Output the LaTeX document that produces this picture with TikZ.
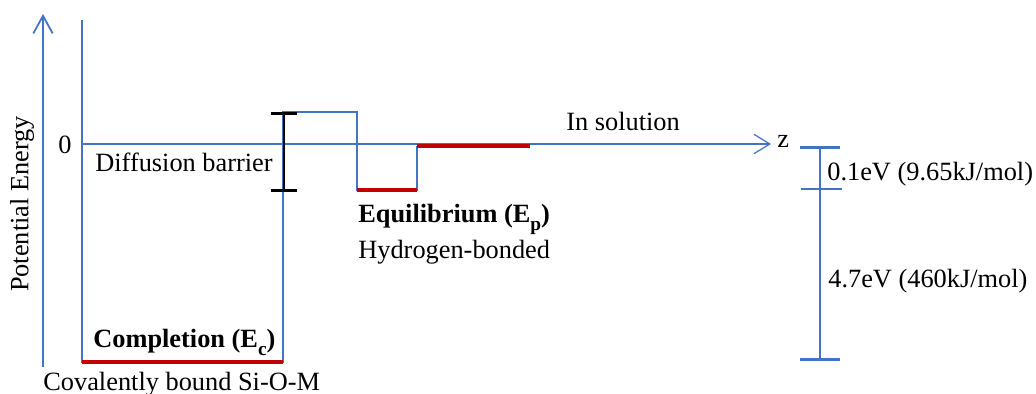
\documentclass[tikz,border=0pt]{standalone}
\usepackage{fontspec}
\setmainfont{Liberation Serif}
\usetikzlibrary{arrows.meta}
\definecolor{axisblue}{RGB}{68,114,196}
\definecolor{levelred}{RGB}{192,0,0}
\newcommand{\lowsub}[1]{\raisebox{-4.5pt}{\fontsize{11}{13}\selectfont #1}}
\tikzset{
  txt/.style={inner sep=0pt, anchor=base west},
  axis/.style={draw=axisblue, line width=1.7pt, -{Straight Barb[length=10pt,width=11pt,line width=1pt]}},
  zaxis/.style={draw=axisblue, line width=0.7pt, -{Straight Barb[length=9pt,width=11pt,line width=0.7pt]}},
  well/.style={draw=axisblue, line width=0.7pt},
  level/.style={draw=levelred, line width=2.8pt},
  barrier/.style={draw=black, line width=1.7pt, {Bar[width=15pt]}-{Bar[width=15pt]}},
  scalebar/.style={draw=axisblue, line width=1.7pt, {Bar[width=23pt]}-{Bar[width=23pt]}},
  tick/.style={draw=axisblue, line width=1.7pt}
}

\begin{document}
\begin{tikzpicture}[x=0.02cm,y=-0.02cm,font=\fontsize{15}{18}\selectfont]
\useasboundingbox (0,0) rectangle (1036,394);

% axes
\coordinate (E0) at (43,367);
\coordinate (E1) at (43,14);
\coordinate (Z0) at (82,144);
\coordinate (Z1) at (771,144);
\path (E0) edge[axis] (E1);
\path (Z0) edge[zaxis] (Z1);

% potential well
\coordinate (W0) at (82,20);
\coordinate (W1) at (82,362);
\coordinate (W2) at (283,362);
\coordinate (W3) at (283,112);
\coordinate (W4) at (357,112);
\coordinate (W5) at (357,190);
\coordinate (W6) at (417,190);
\coordinate (W7) at (417,146);
\draw[well] (W0) -- (W1) -- (W2) -- (W3) -- (W4) -- (W5) -- (W6) -- (W7);

% energy levels
\coordinate (L1) at (530,146);
\path (W1) edge[level] (W2);
\path (W5) edge[level] (W6);
\path (W7) edge[level] (L1);

% barrier and scale
\coordinate (B0) at (284,112);
\coordinate (B1) at (284,192);
\path (B0) edge[barrier] (B1);
\coordinate (S0) at (820,146);
\coordinate (S1l) at (801,189);
\coordinate (S1r) at (842,189);
\coordinate (S2) at (820,361);
\path (S0) edge[scalebar] (S2);
\path (S1l) edge[tick] (S1r);

% labels
\node[rotate=90, inner sep=0pt] (pe) at (22,204) {Potential Energy};
\node[txt] (zero) at (58,154) {0};
\node[txt] (z) at (777,148) {z};
\node[txt] (diff) at (95,172) {Diffusion barrier};
\node[txt] (sol) at (566,131) {In solution};
\node[txt] (comp) at (93,348) {\textbf{Completion (E\lowsub{c})}};
\node[txt] (cov) at (43,391) {Covalently bound Si-O-M};
\node[txt] (eq) at (358,223) {\textbf{Equilibrium (E\lowsub{p})}};
\node[txt] (hb) at (358,259) {Hydrogen-bonded};
\node[txt] (e1) at (827,181) {0.1eV (9.65kJ/mol)};
\node[txt] (e2) at (828,288) {4.7eV (460kJ/mol)};
\end{tikzpicture}
\end{document}
